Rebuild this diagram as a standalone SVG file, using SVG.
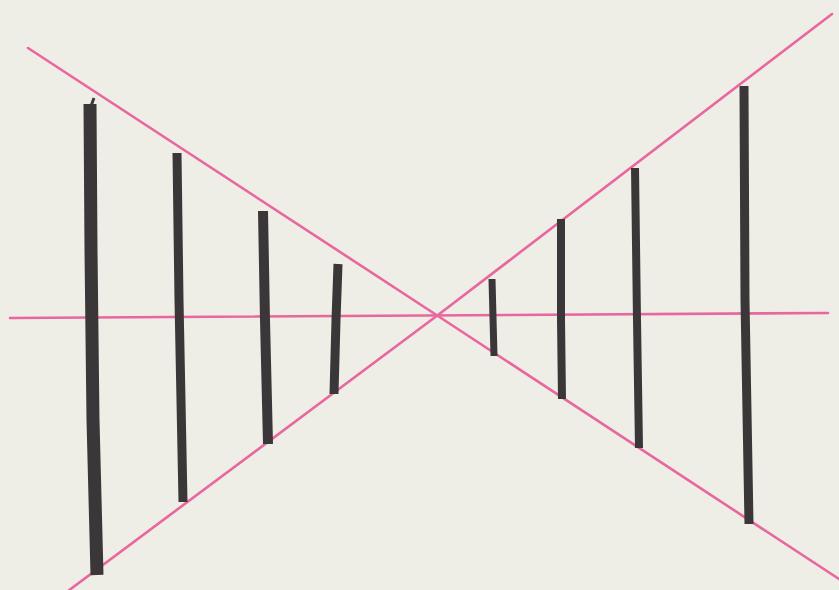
<svg xmlns="http://www.w3.org/2000/svg" width="839" height="590" viewBox="0 0 839 590">
<style>
.pink{stroke:#e9679f;stroke-width:2.6;fill:none;stroke-linecap:round;stroke-linejoin:round}
.bar{stroke:#3b3738;fill:none;stroke-linecap:butt;stroke-linejoin:round}
</style>
<rect width="839" height="590" fill="#eeede6"/>
<g id="guides">
<polyline class="pink" points="28,48 438,316 845,583"/>
<polyline class="pink" points="64,594 438,315 832,14"/>
<line class="pink" x1="10" y1="318" x2="828" y2="313"/>
</g>
<g id="bars">
<path class="bar" stroke-width="13" d="M90 104 L91 250 L93 420 L97 575"/>
<path class="bar" stroke-width="3" d="M91 106 L94 98"/>
<path class="bar" stroke-width="9" d="M177 153 L179 300 L183 502"/>
<path class="bar" stroke-width="10" d="M263 211 L265 320 L268 444"/>
<path class="bar" stroke-width="9" d="M338 264 L336 320 L334 394"/>
<path class="bar" stroke-width="7" d="M492 279 L494 356"/>
<path class="bar" stroke-width="8" d="M561 219 L561 320 L562 399"/>
<path class="bar" stroke-width="8" d="M635 168 L637 320 L639 448"/>
<path class="bar" stroke-width="9" d="M744 86 L745 300 L749 524"/>
</g>
</svg>
